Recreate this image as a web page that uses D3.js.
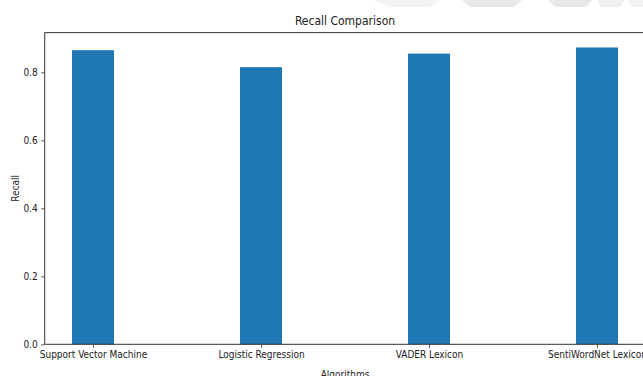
<!DOCTYPE html>
<html>
<head>
<meta charset="utf-8">
<script src="https://cdn.jsdelivr.net/npm/d3@7"></script>
<style>
  html, body { margin: 0; padding: 0; background: #fff; }
  svg { display: block; }
  text { font-family: "DejaVu Sans Condensed", "DejaVu Sans", sans-serif; fill: #222; }
</style>
</head>
<body>
<svg id="chart" width="643" height="376"></svg>
<script>
// Recall per algorithm
const algorithms = ["Support Vector Machine", "Logistic Regression", "VADER Lexicon", "SentiWordNet Lexicon"];
const recall = [0.865, 0.815, 0.855, 0.873];
const yTicks = [0.0, 0.2, 0.4, 0.6, 0.8];

const svg = d3.select("#chart");

// faint grey band along the top edge
const band = svg.append("g").attr("fill", "#e6e6e6").attr("opacity", 0.85);
band.append("path").attr("d", "M372,0 L440,0 L430,7 L392,7 Z").attr("fill", "#f2f2f2");
band.append("path").attr("d", "M462,0 L522,0 L514,7 L470,7 Z");
band.append("path").attr("d", "M548,0 L592,0 L586,7 L556,7 Z");
band.append("path").attr("d", "M598,0 L625,0 L620,7 L600,7 Z").attr("fill", "#eeeeee");
band.append("path").attr("d", "M628,0 L643,0 L643,7 L632,7 Z").attr("fill", "#f0f0f0");

const barWidth = 0.25;
const n = algorithms.length;
const lo = -barWidth / 2, hi = (n - 1) + barWidth / 2;
const pad = (hi - lo) * 0.05;

const x = d3.scaleLinear().domain([lo - pad, hi + pad]).range([44.7, 645.3]);
const yMax = d3.max(recall) * 1.05;
const y = d3.scaleLinear().domain([0, yMax]).range([344.3, 344.3 - 340 * yMax]);

// bars
svg.append("g").selectAll("rect")
  .data(recall)
  .join("rect")
  .attr("x", (d, i) => x(i - barWidth / 2))
  .attr("width", (d, i) => x(i + barWidth / 2) - x(i - barWidth / 2))
  .attr("y", d => y(d))
  .attr("height", d => y(0) - y(d))
  .attr("fill", "#1f77b4");

// axes
const xAxis = d3.axisBottom(x)
  .tickValues(d3.range(n))
  .tickFormat(i => algorithms[i])
  .tickSize(3.5).tickPadding(3.5);
const gx = svg.append("g").attr("transform", `translate(0,${y(0)})`).call(xAxis);

const yAxis = d3.axisLeft(y)
  .tickValues(yTicks)
  .tickFormat(d3.format(".1f"))
  .tickSize(3.5).tickPadding(3.5);
const gy = svg.append("g").attr("transform", `translate(${x.range()[0]},0)`).call(yAxis);

[gx, gy].forEach(g => {
  g.select(".domain").remove();
  g.selectAll(".tick line").attr("stroke", "#333").attr("stroke-width", 0.8);
  g.selectAll(".tick text").attr("font-size", 10).attr("fill", "#222")
    .style("font-family", '"DejaVu Sans Condensed", "DejaVu Sans", sans-serif');
});

// frame
const plotTop = y(yMax);
const frame = svg.append("g").attr("stroke", "#333").attr("stroke-width", 1).attr("fill", "none");
frame.append("line").attr("x1", x.range()[0]).attr("x2", x.range()[1]).attr("y1", plotTop).attr("y2", plotTop);
frame.append("line").attr("x1", x.range()[0]).attr("x2", x.range()[1]).attr("y1", y(0)).attr("y2", y(0));
frame.append("line").attr("x1", x.range()[0]).attr("x2", x.range()[0]).attr("y1", plotTop).attr("y2", y(0));
frame.append("line").attr("x1", x.range()[1]).attr("x2", x.range()[1]).attr("y1", plotTop).attr("y2", y(0));

const cx = (x.range()[0] + x.range()[1]) / 2;
svg.append("text").attr("x", cx).attr("y", 24.5).attr("text-anchor", "middle")
  .attr("font-size", 12).text("Recall Comparison");
svg.append("text").attr("x", cx).attr("y", 377.5).attr("text-anchor", "middle")
  .attr("font-size", 10).text("Algorithms");
svg.append("text").attr("transform", `translate(19,${(plotTop + y(0)) / 2}) rotate(-90)`)
  .attr("text-anchor", "middle").attr("font-size", 10).text("Recall");
</script>
</body>
</html>
